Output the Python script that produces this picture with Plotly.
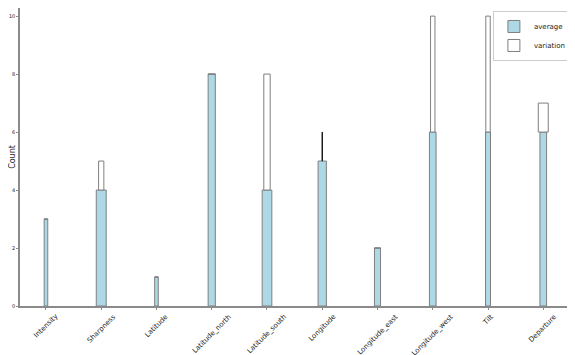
import plotly.graph_objects as go

categories = ["Intensity", "Sharpness", "Latitude", "Latitude_north", "Latitude_south",
              "Longitude", "Longitude_east", "Longitude_west", "Tilt", "Departure"]
average = [3, 4, 1, 8, 4, 5, 2, 6, 6, 6]
variation = [0, 1, 0, 0, 4, 1, 0, 4, 4, 1]
average_width = [0.065, 0.18, 0.065, 0.13, 0.175, 0.15, 0.11, 0.12, 0.09, 0.12]
variation_width = [0.065, 0.095, 0.065, 0.13, 0.115, 0.004, 0.11, 0.08, 0.08, 0.18]

positions = list(range(len(categories)))
edge = "#7f7f7f"

fig = go.Figure()

fig.add_trace(go.Bar(x=positions, y=average, width=average_width, name="average",
                     marker=dict(color="#add8e6", line=dict(color=edge, width=1))))

# variation sits on top of the average bars
var_edges = [("#111111" if w < 0.01 else edge) for w in variation_width]
fig.add_trace(go.Bar(x=positions, y=variation, base=average, width=variation_width,
                     name="variation",
                     marker=dict(color="white", line=dict(color=var_edges, width=1))))

# rotated labels centred under each tick (tick labels in plotly anchor at their end)
for pos, label in zip(positions, categories):
    fig.add_annotation(x=pos, y=0, xref="x", yref="paper", text=label, showarrow=False,
                       textangle=-45, xanchor="center", yanchor="top", yshift=-4,
                       font=dict(size=7, color="#222"))

# the page body adds an 8px margin, so the figure is a bit smaller than the window
fig.update_layout(
    width=567, height=347,
    barmode="overlay",
    plot_bgcolor="white", paper_bgcolor="white",
    margin=dict(l=12, r=3, t=0, b=49, autoexpand=False),
    font=dict(family="DejaVu Sans", color="#222"),
    legend=dict(x=0.998, y=0.99, xanchor="right", yanchor="top",
                bordercolor="#cccccc", borderwidth=1, bgcolor="white",
                font=dict(size=7), itemwidth=30, tracegroupgap=0),
    showlegend=True,
)

fig.update_xaxes(range=[-0.47, 9.52], tickmode="array", tickvals=positions,
                 showticklabels=False, showgrid=False,
                 zeroline=False, automargin=False,
                 showline=True, mirror=True, linecolor="#8a8a8a", linewidth=1.5,
                 ticks="outside", ticklen=2, tickcolor="#8a8a8a")
fig.update_yaxes(range=[0, 10.28], tickvals=[0, 2, 4, 6, 8, 10],
                 tickfont=dict(size=5, color="#222"),
                 showgrid=False, zeroline=False, automargin=False,
                 showline=True, mirror=True, linecolor="#8a8a8a", linewidth=1.5,
                 ticks="outside", ticklen=2, tickcolor="#8a8a8a",
                 title=dict(text="Count", font=dict(size=8), standoff=2))

fig.write_html("out.html")
